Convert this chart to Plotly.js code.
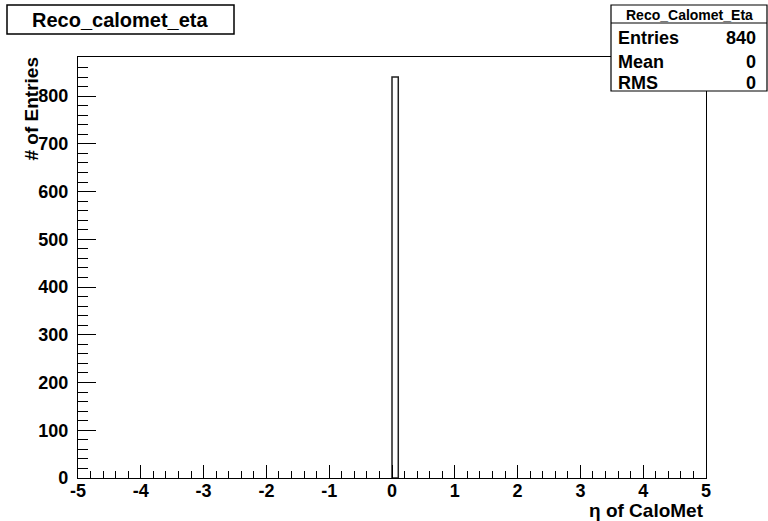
<!DOCTYPE html>
<html>
<head>
<meta charset="utf-8">
<script src="https://cdn.plot.ly/plotly-3.0.1.min.js"></script>
<style>html,body{margin:0;padding:0;background:#fff;}</style>
</head>
<body>
<div id="chart" style="width:768px;height:521px;"></div>
<script>
// Data
const binLowEdges = [0.0];
const binWidths = [0.1];
const binCounts = [840];
const xTickVals = [-5, -4, -3, -2, -1, 0, 1, 2, 3, 4, 5];
const xTickText = ["-5", "-4", "-3", "-2", "-1", "0", "1", "2", "3", "4", "5"];
const histTitle = "Reco_calomet_eta";
const statsName = "Reco_Calomet_Eta";
const statsLabels = ["Entries", "Mean", "RMS"];
const statsValues = ["840", "0", "0"];
const xTitle = "η of CaloMet";
const yTitle = "# of Entries";

// layout geometry (pixels)
const W = 768, H = 521;
const L = 78, R = 706, T = 57, B = 478;
const px = x => (x - L) / (R - L);
const py = y => (B - y) / (B - T);

const FONT = "Liberation Sans, Arial, Helvetica, sans-serif";

const trace = {
  type: "bar",
  x: binLowEdges.map((e, i) => e + binWidths[i] / 2),
  y: binCounts,
  width: binWidths,
  marker: { color: "#ffffff", line: { color: "#222", width: 1.5 } },
  hoverinfo: "skip"
};

const shapes = [
  // title box
  { type: "rect", xref: "paper", yref: "paper", x0: px(7), x1: px(234), y0: py(34), y1: py(5),
    line: { color: "#000", width: 1.5 }, fillcolor: "#fff", layer: "above" },
  // stats box
  { type: "rect", xref: "paper", yref: "paper", x0: px(611), x1: px(767), y0: py(91), y1: py(5),
    line: { color: "#000", width: 1.2 }, fillcolor: "#fff", layer: "above" },
  { type: "line", xref: "paper", yref: "paper", x0: px(611), x1: px(767), y0: py(23), y1: py(23),
    line: { color: "#000", width: 1.2 }, layer: "above" }
];

const annotations = [
  { text: histTitle, xref: "paper", yref: "paper", x: px(120.5), y: py(19.5), xanchor: "center", yanchor: "middle",
    showarrow: false, font: { family: FONT, size: 20, weight: "bold", color: "#000" } },
  { text: statsName, xref: "paper", yref: "paper", x: px(689), y: py(14.5), xanchor: "center", yanchor: "middle",
    showarrow: false, font: { family: FONT, size: 14, weight: "bold", color: "#000" } },
  { text: yTitle, xref: "paper", yref: "paper", x: px(31), y: py(56), xanchor: "center", yanchor: "top",
    textangle: -90, showarrow: false, font: { family: FONT, size: 19, weight: "bold", color: "#000" } },
  { text: xTitle, xref: "paper", yref: "paper", x: px(706), y: py(510), xanchor: "right", yanchor: "middle",
    showarrow: false, font: { family: FONT, size: 19, weight: "bold", color: "#000" } }
];
const rowY = [38.5, 61.5, 83];
statsLabels.forEach((lab, i) => {
  annotations.push({ text: lab, xref: "paper", yref: "paper", x: px(616), y: py(rowY[i]), xanchor: "left", yanchor: "middle",
    showarrow: false, font: { family: FONT, size: 18, weight: "bold", color: "#000" } });
  annotations.push({ text: statsValues[i], xref: "paper", yref: "paper", x: px(758), y: py(rowY[i]), xanchor: "right", yanchor: "middle",
    showarrow: false, font: { family: FONT, size: 18, weight: "bold", color: "#000" } });
});

const layout = {
  width: W, height: H,
  margin: { l: L, r: W - R, t: T, b: H - B, pad: 0 },
  paper_bgcolor: "#fff", plot_bgcolor: "#fff",
  showlegend: false,
  bargap: 0,
  xaxis: {
    range: [-5, 5], tickmode: "array", tickvals: xTickVals, ticktext: xTickText,
    ticks: "inside", ticklen: 13, tickwidth: 1, tickcolor: "#000",
    minor: { tickmode: "linear", tick0: -5, dtick: 0.2, ticks: "inside", ticklen: 7, tickwidth: 1, tickcolor: "#000" },
    showgrid: false, zeroline: false,
    showline: true, mirror: true, linecolor: "#000", linewidth: 1.2,
    tickfont: { family: FONT, size: 18, weight: "bold", color: "#000" },
    ticklabelstandoff: -4
  },
  yaxis: {
    range: [0, 882], dtick: 100, tick0: 0,
    ticks: "inside", ticklen: 18, tickwidth: 1, tickcolor: "#000",
    minor: { dtick: 20, ticks: "inside", ticklen: 10, tickwidth: 1, tickcolor: "#000" },
    showgrid: false, zeroline: false,
    showline: true, mirror: true, linecolor: "#000", linewidth: 1.2,
    tickfont: { family: FONT, size: 18, weight: "bold", color: "#000" },
    ticklabelstandoff: 5
  },
  shapes: shapes,
  annotations: annotations
};

Plotly.newPlot("chart", [trace], layout, { staticPlot: true, displayModeBar: false });
</script>
</body>
</html>
